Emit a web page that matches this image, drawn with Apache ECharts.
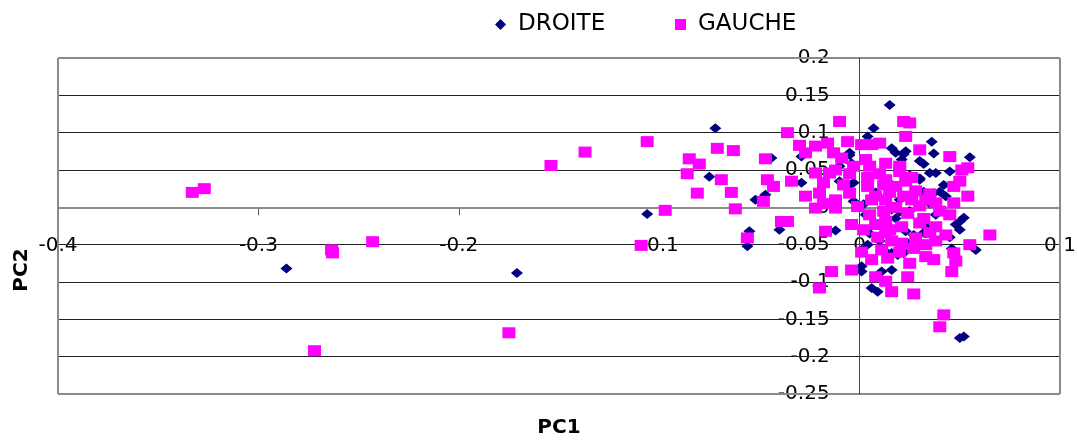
<!DOCTYPE html>
<html>
<head>
<meta charset="utf-8">
<script src="https://cdn.jsdelivr.net/npm/echarts@6/dist/echarts.min.js"></script>
<style>html,body{margin:0;padding:0;background:#fff;}#c{width:1077px;height:440px;}</style>
</head>
<body>
<div id="c"></div>
<script>
const seriesNames = ['DROITE', 'GAUCHE'];
const xTicks = { min: -0.4, max: 0.1, interval: 0.1 };
const yTicks = { min: -0.25, max: 0.2, interval: 0.05 };
const yGridValues = [0.15, 0.1, 0.05, -0.05, -0.1, -0.15, -0.2];

const droite = [
[-0.286,-0.082],[-0.171,-0.088],[-0.072,0.106],[-0.075,0.041],[-0.106,-0.009],[-0.049,0.011],[-0.047,0.017],
[-0.029,0.033],[-0.029,0.068],[-0.010,0.035],[-0.005,0.073],[-0.003,0.033],
[0.007,0.106],[0.015,0.137],[0.004,0.095],[0.016,0.079],[0.018,0.073],[0.023,0.075],[0.022,0.071],[0.036,0.088],
[0.037,0.072],[0.030,0.062],[0.032,0.058],[0.021,0.064],[0.055,0.067],[0.045,0.048],[0.035,0.046],[0.038,0.046],
[0.025,0.043],[0.030,0.039],[0.042,0.030],[0.030,0.037],[0.037,0.019],[0.040,0.021],[0.043,0.015],[0.032,0.021],
[0.016,-0.003],[0.020,-0.006],[0.052,-0.014],
[-0.044,0.066],[-0.005,0.070],[-0.004,0.059],[-0.010,0.055],[-0.005,0.030],[-0.052,0.010],[-0.003,0.008],
[-0.055,-0.032],[-0.056,-0.052],[-0.040,-0.030],[-0.012,-0.031],[0.001,-0.057],[0.001,-0.079],[0.001,-0.086],
[0.006,-0.108],[0.009,-0.113],[0.016,-0.084],[0.011,-0.086],[0.002,0.004],[0.014,-0.003],[0.019,-0.064],
[0.003,-0.010],[0.011,-0.026],[0.012,-0.057],[0.022,-0.059],[0.024,-0.048],
[0.050,-0.019],[0.048,-0.023],[0.058,-0.057],[0.050,-0.175],[0.052,-0.173],[0.022,-0.061],[0.016,-0.061],
[0.033,-0.050],[0.012,-0.021],[0.023,-0.032],[0.027,-0.037],[0.046,-0.055],[0.033,-0.026],[0.032,-0.034],
[0.005,-0.035],[0.010,-0.045],[0.018,-0.015],[0.025,-0.005],[0.030,-0.020],[0.035,0.005],[0.008,0.020],
[0.014,0.035],[0.020,0.010],[0.004,-0.050],[0.028,-0.040],[0.038,-0.010],[0.045,-0.040],[0.050,-0.030]
];

const gauche = [
[-0.333,0.020],[-0.327,0.025],[-0.2635,-0.057],[-0.263,-0.061],[-0.243,-0.046],[-0.272,-0.192],[-0.175,-0.168],
[-0.109,-0.051],[-0.106,0.088],[-0.137,0.074],[-0.154,0.056],[-0.085,0.065],[-0.080,0.058],[-0.071,0.079],
[-0.063,0.076],[-0.086,0.045],[-0.069,0.037],[-0.081,0.019],[-0.064,0.020],[-0.062,-0.002],[-0.097,-0.004],
[-0.047,0.065],[-0.046,0.037],[-0.043,0.028],[-0.048,0.008],[-0.036,0.100],[-0.030,0.083],[-0.034,0.035],
[-0.027,0.073],[-0.022,0.082],[-0.016,0.086],[-0.010,0.115],[-0.006,0.088],[-0.013,0.073],[-0.009,0.066],
[-0.027,0.015],[-0.022,0.046],[-0.018,0.033],[-0.020,0.019],[-0.022,-0.001],[-0.015,0.046],[-0.012,0.050],
[-0.003,0.055],[0.001,0.084],[0.006,0.084],[0.010,0.086],[0.003,0.064],[0.013,0.059],[0.020,0.055],
[0.022,0.115],[0.025,0.113],[0.023,0.095],[0.030,0.077],[0.045,0.068],[0.054,0.053],[0.051,0.050],
[0.050,0.035],[0.047,0.028],[0.054,0.015],[0.047,0.006],[0.013,0.037],[0.018,0.028],[0.023,0.035],
[0.004,0.028],[-0.005,0.019],[0.006,0.010],[0.013,0.010],[0.026,0.010],[0.033,0.010],[0.038,0.006],
[-0.001,0.001],[-0.012,-0.001],[-0.056,-0.041],[-0.039,-0.019],[-0.036,-0.019],[-0.017,-0.032],[-0.004,-0.023],
[-0.014,-0.086],[-0.004,-0.084],[-0.020,-0.108],[0.008,-0.023],[0.013,-0.034],[0.011,-0.057],[0.014,-0.068],
[0.021,-0.048],[0.028,-0.041],[0.035,-0.034],[0.043,-0.037],[0.038,-0.026],[0.033,-0.066],[0.037,-0.070],
[0.025,-0.075],[0.024,-0.093],[0.008,-0.093],[0.013,-0.099],[0.016,-0.113],[0.027,-0.116],[0.047,-0.061],
[0.048,-0.072],[0.046,-0.086],[0.055,-0.050],[0.065,-0.037],[0.042,-0.144],[0.040,-0.160],[0.013,-0.019],
[0.021,-0.026],[0.030,-0.021],[0.045,-0.010],
[0.005,-0.010],[0.012,-0.005],[0.018,0.000],[0.024,-0.008],[0.030,0.002],[0.008,0.015],[0.015,0.020],
[0.022,0.015],[0.028,0.022],[0.035,0.018],[0.002,-0.030],[0.009,-0.040],[0.016,-0.045],[0.020,-0.060],
[0.027,-0.055],[0.033,-0.050],[0.004,0.040],[0.010,0.045],[0.020,0.048],[0.026,0.040],[0.001,-0.060],
[0.006,-0.070],[0.015,-0.030],[0.032,-0.015],[0.040,-0.005],[0.038,-0.045],[0.012,0.030],[0.005,0.055],
[-0.005,0.045],[-0.008,0.030],[-0.012,0.010],[-0.018,0.005]
];

const W = 1077, H = 440;
const G = { left: 58, right: 17, top: 58, bottom: 46 };
const plotW = W - G.left - G.right, plotH = H - G.top - G.bottom;
// offsets that move each axis onto the other's zero value
const xAxisOffset = -(plotH * (0 - yTicks.min) / (yTicks.max - yTicks.min));
const yAxisOffset = -(plotW * (0 - xTicks.min) / (xTicks.max - xTicks.min));

const gridStyle = { color: '#222', width: 1, type: 'solid' };
const borderStyle = { color: '#8a8a8a', width: 2, type: 'solid' };
const guideLines = []
  .concat(yGridValues.map(v => ({ yAxis: v, lineStyle: gridStyle })))
  .concat([
    { yAxis: yTicks.max, lineStyle: borderStyle },
    { yAxis: yTicks.min, lineStyle: borderStyle },
    { xAxis: xTicks.min, lineStyle: borderStyle },
    { xAxis: xTicks.max, lineStyle: borderStyle },
    { xAxis: 0, lineStyle: { color: '#444', width: 1, type: 'solid' } },
    { yAxis: 0, lineStyle: { color: '#8a8a8a', width: 2, type: 'solid' } }
  ]);

const chart = echarts.init(document.getElementById('c'));
const numFont = { fontFamily: 'DejaVu Sans', fontSize: 20, color: '#000' };
const titleFont = { fontFamily: 'DejaVu Sans', fontWeight: 'bold', fontSize: 20, color: '#000' };
chart.setOption({
  animation: false,
  backgroundColor: '#fff',
  legend: [
    { left: 490, top: 8, itemWidth: 11, itemHeight: 11, icon: 'diamond', data: [seriesNames[0]],
      textStyle: { fontFamily: 'DejaVu Sans', fontSize: 23, color: '#000', padding: [0, 0, 0, 7] } },
    { left: 670, top: 8, itemWidth: 11, itemHeight: 11, icon: 'rect', data: [seriesNames[1]],
      textStyle: { fontFamily: 'DejaVu Sans', fontSize: 23, color: '#000', padding: [0, 0, 0, 7] } }
  ],
  grid: { left: G.left, right: G.right, top: G.top, bottom: G.bottom, containLabel: false, outerBoundsMode: 'none' },
  xAxis: {
    type: 'value', min: xTicks.min, max: xTicks.max, interval: xTicks.interval, position: 'bottom', offset: xAxisOffset,
    name: 'PC1', nameLocation: 'middle', nameGap: 210, nameTextStyle: titleFont,
    axisLine: { show: true, onZero: false, lineStyle: { color: '#8a8a8a', width: 2 } },
    axisTick: { show: true, length: 8, lineStyle: { color: '#555' } },
    axisLabel: Object.assign({ margin: 28 }, numFont),
    splitLine: { show: false }
  },
  yAxis: {
    type: 'value', min: yTicks.min, max: yTicks.max, interval: yTicks.interval, position: 'left', offset: yAxisOffset,
    name: 'PC2', nameLocation: 'middle', nameRotate: 90, nameGap: 828,
    nameTextStyle: Object.assign({ padding: [0, 88, 0, 0] }, titleFont),
    axisLine: { show: true, onZero: false, lineStyle: { color: '#444', width: 1 } },
    axisTick: { show: true, length: 8, lineStyle: { color: '#444' } },
    axisLabel: Object.assign({ margin: 30 }, numFont),
    splitLine: { show: true, lineStyle: { color: '#222', width: 1 } }
  },
  series: [
    { name: seriesNames[0], type: 'scatter', symbol: 'diamond', symbolSize: [12, 10], data: droite, z: 2,
      itemStyle: { color: '#000080', opacity: 1 },
      markLine: { z: 1, silent: true, symbol: ['none', 'none'], label: { show: false }, animation: false, data: guideLines } },
    { name: seriesNames[1], type: 'scatter', symbol: 'rect', symbolSize: [13, 11], data: gauche, z: 3,
      itemStyle: { color: '#ff00ff', opacity: 1 } }
  ]
});
</script>
</body>
</html>
